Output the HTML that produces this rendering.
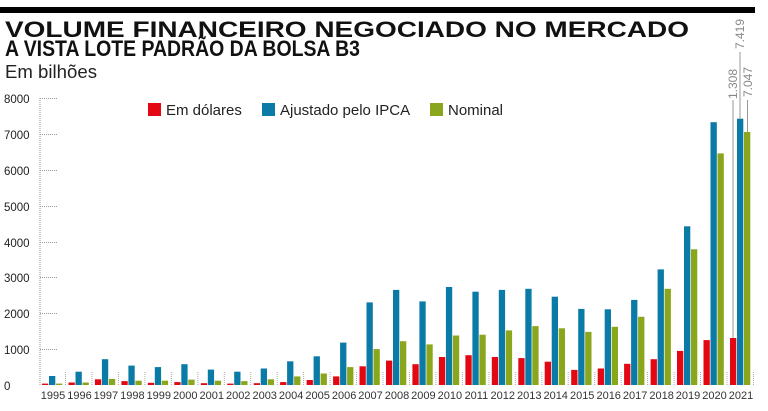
<!DOCTYPE html>
<html><head><meta charset="utf-8"><style>
body{margin:0;background:#fff;}
svg{display:block;font-family:"Liberation Sans",sans-serif;}
</style></head><body>
<svg width="768" height="411" viewBox="0 0 768 411" xmlns="http://www.w3.org/2000/svg">
<rect x="0" y="7" width="755" height="6" fill="#000"/>
<text x="5" y="37" font-size="22" font-weight="bold" fill="#111" textLength="684" lengthAdjust="spacingAndGlyphs">VOLUME FINANCEIRO NEGOCIADO NO MERCADO</text>
<text x="5" y="56" font-size="22" font-weight="bold" fill="#111" textLength="355" lengthAdjust="spacingAndGlyphs">A VISTA LOTE PADRÃO DA BOLSA B3</text>
<text x="5" y="78" font-size="18" fill="#222" textLength="92" lengthAdjust="spacingAndGlyphs">Em bilhões</text>
<g font-size="11.5" fill="#222">
<text x="4" y="103">8000</text><text x="4" y="139">7000</text><text x="4" y="175">6000</text>
<text x="4" y="211">5000</text><text x="4" y="247">4000</text><text x="4" y="282">3000</text>
<text x="4" y="318">2000</text><text x="4" y="354">1000</text><text x="4" y="390">0</text>
</g>
<g stroke="#999" stroke-dasharray="1,1" stroke-width="1">
<line x1="40" y1="98" x2="40" y2="385"/>
<line x1="40" y1="98.5" x2="57" y2="98.5"/><line x1="40" y1="134.5" x2="57" y2="134.5"/>
<line x1="40" y1="170.5" x2="57" y2="170.5"/><line x1="40" y1="206.5" x2="57" y2="206.5"/>
<line x1="40" y1="242.5" x2="57" y2="242.5"/><line x1="40" y1="277.5" x2="57" y2="277.5"/>
<line x1="40" y1="313.5" x2="57" y2="313.5"/><line x1="40" y1="349.5" x2="57" y2="349.5"/>
</g>
<rect x="148" y="103" width="13" height="13" fill="#e30613"/>
<text x="166" y="115" font-size="15" fill="#222">Em dólares</text>
<rect x="262" y="103" width="13" height="13" fill="#0a7aa6"/>
<text x="280" y="115" font-size="15" fill="#222">Ajustado pelo IPCA</text>
<rect x="430" y="103" width="13" height="13" fill="#8aa61c"/>
<text x="448" y="115" font-size="15" fill="#222">Nominal</text>
<g id="bars"></g>
<g stroke="#999" stroke-width="1">
<line x1="733" y1="100" x2="733" y2="338"/>
<line x1="740" y1="52" x2="740" y2="119"/>
<line x1="747.5" y1="100" x2="747.5" y2="132"/>
</g>
<g font-size="12" fill="#888">
<text transform="translate(737,99) rotate(-90)">1.308</text>
<text transform="translate(744,49) rotate(-90)">7.419</text>
<text transform="translate(752,97) rotate(-90)">7.047</text>
</g>
<g id="labels" font-size="11" fill="#333" text-anchor="middle"></g>
</svg>
<script>
var d=[[40,250,40],[70,370,70],[160,720,170],[110,540,120],[60,500,120],[80,580,150],[50,430,120],[40,370,110],[50,460,160],[80,660,240],[140,800,320],[240,1180,500],[520,2300,1000],[680,2650,1220],[580,2330,1130],[780,2730,1380],[830,2600,1400],[780,2650,1520],[750,2680,1640],[650,2460,1580],[420,2120,1480],[460,2110,1620],[590,2370,1900],[720,3220,2680],[950,4420,3780],[1250,7320,6450],[1308,7419,7047]];
var c=["#e30613","#0a7aa6","#8aa61c"],s="",l="";
for(var i=0;i<d.length;i++){var x0=42+i*26.46;
for(var j=0;j<3;j++){var h=d[i][j]*0.0359;s+='<rect x="'+(x0+j*7).toFixed(1)+'" y="'+(385-h).toFixed(1)+'" width="6.3" height="'+h.toFixed(1)+'" fill="'+c[j]+'"/>';}
s+='<line x1="'+(x0+23.5).toFixed(1)+'" y1="372" x2="'+(x0+23.5).toFixed(1)+'" y2="386" stroke="#aaa" stroke-dasharray="1,1"/>';
l+='<text x="'+(x0+11).toFixed(1)+'" y="399">'+(1995+i)+'</text>';}
document.getElementById("bars").innerHTML=s;document.getElementById("labels").innerHTML=l;
</script>
</body></html>
